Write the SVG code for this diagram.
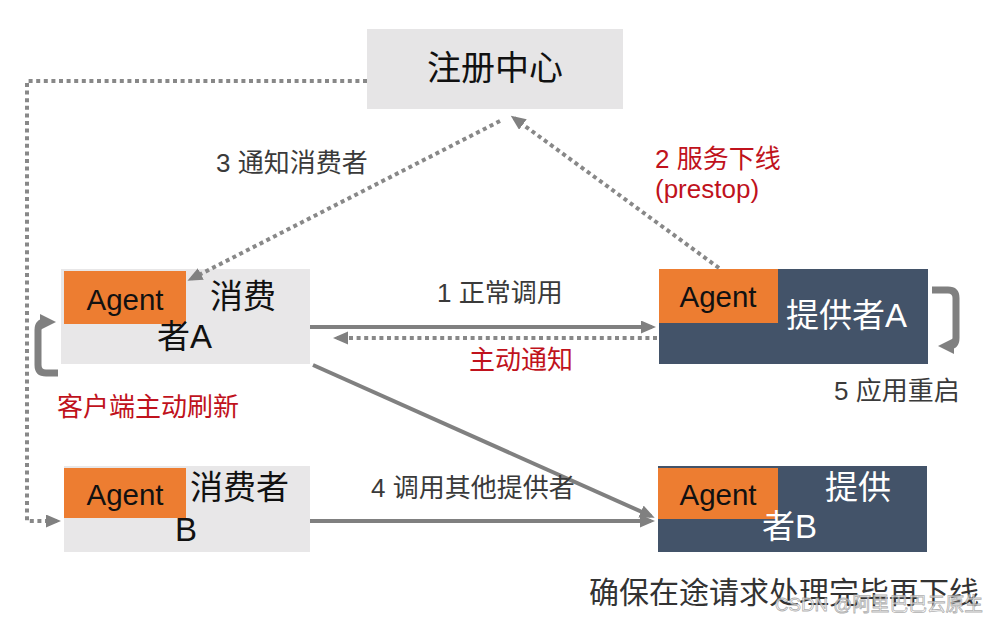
<svg xmlns="http://www.w3.org/2000/svg" width="998" height="622" viewBox="0 0 998 622">
<defs>
<style>
.t{font-family:"Liberation Sans","Noto Sans CJK SC",sans-serif}
.lbl{font-size:26px;fill:#3a3a3a}
.red{font-size:26px;fill:#c0121c}
.node{font-size:33px;fill:#111}
.wnode{font-size:33px;fill:#fff}
.agent{font-size:29.5px;fill:#111}
.ln{stroke:#808080;stroke-width:4;fill:none}
.dot{stroke:#888;stroke-width:4;fill:none;stroke-dasharray:4 3.6}
.br{stroke:#808080;stroke-width:7;fill:none}
</style>
<marker id="ah" markerUnits="userSpaceOnUse" markerWidth="16" markerHeight="14" refX="11" refY="6.5" orient="auto">
<path d="M0,0 L15,6.5 L0,13 z" fill="#808080"/>
</marker>
<marker id="ahb" markerUnits="userSpaceOnUse" markerWidth="18" markerHeight="18" refX="8" refY="8" orient="auto">
<path d="M0,0 L16,8 L0,16 z" fill="#808080"/>
</marker>
</defs>
<rect width="998" height="622" fill="#fff"/>

<g id="registry">
<rect x="367" y="29" width="256" height="80" fill="#e6e5e6"/>
<text class="t" x="495" y="80" font-size="34" fill="#111" text-anchor="middle">注册中心</text>
</g>

<g id="consumerA">
<rect x="61" y="269" width="249" height="95" fill="#e8e7e8"/>
<rect x="64" y="271" width="122" height="53" fill="#ed7d31"/>
<text class="t agent" x="125" y="310" text-anchor="middle">Agent</text>
<text class="t node" x="210" y="308">消费</text>
<text class="t node" x="157" y="348">者A</text>
</g>

<g id="consumerB">
<rect x="64" y="466" width="246" height="86" fill="#e8e7e8"/>
<rect x="64" y="468" width="122" height="50" fill="#ed7d31"/>
<text class="t agent" x="125" y="505" text-anchor="middle">Agent</text>
<text class="t node" x="190" y="499">消费者</text>
<text class="t node" x="175" y="541">B</text>
</g>

<g id="providerA">
<rect x="659" y="269" width="269" height="95" fill="#435369"/>
<rect x="659" y="269" width="119" height="54" fill="#ed7d31"/>
<text class="t agent" x="718" y="307" text-anchor="middle">Agent</text>
<text class="t wnode" x="786" y="327">提供者A</text>
</g>

<g id="providerB">
<rect x="658" y="466" width="269" height="86" fill="#435369"/>
<rect x="658" y="468" width="120" height="51" fill="#ed7d31"/>
<text class="t agent" x="718" y="505" text-anchor="middle">Agent</text>
<text class="t wnode" x="825" y="499">提供</text>
<text class="t wnode" x="762" y="538">者B</text>
</g>

<g id="connectors">
<polyline class="dot" points="367,81 27,81 27,521 57,521" marker-end="url(#ah)"/>
<line class="dot" x1="719" y1="268" x2="514" y2="118" marker-end="url(#ah)"/>
<line class="dot" x1="500" y1="121" x2="191" y2="279" marker-end="url(#ah)"/>
<line class="ln" x1="310" y1="327" x2="652" y2="327" marker-end="url(#ah)"/>
<line class="dot" x1="657" y1="338" x2="337" y2="338" marker-end="url(#ah)"/>
<line class="ln" x1="313" y1="365" x2="651" y2="516" marker-end="url(#ah)"/>
<line class="ln" x1="310" y1="521" x2="651" y2="521" marker-end="url(#ah)"/>
<path class="br" d="M58,373 H46 Q38,373 38,365 V330 Q38,322 46,322 H48" marker-end="url(#ahb)"/>
<path class="br" d="M932,290 H948 Q956,290 956,298 V338 Q956,346 948,346 H946" marker-end="url(#ahb)"/>
</g>

<g id="labels">
<text class="t lbl" x="216" y="172">3 通知消费者</text>
<text class="t red" x="655" y="168">2 服务下线</text>
<text class="t red" x="655" y="198">(prestop)</text>
<text class="t lbl" x="437" y="302">1 正常调用</text>
<text class="t red" x="469" y="369">主动通知</text>
<text class="t red" x="57" y="416">客户端主动刷新</text>
<text class="t lbl" x="834" y="400">5 应用重启</text>
<text class="t lbl" x="371" y="497">4 调用其他提供者</text>
<text class="t" x="589" y="603" font-size="30" fill="#333">确保在途请求处理完毕再下线</text>
<text class="t" x="775" y="611" font-size="19" fill="#fff" fill-opacity="0.7" stroke="#999" stroke-width="0.8" stroke-opacity="0.8" textLength="208" lengthAdjust="spacingAndGlyphs">CSDN @阿里巴巴云原生</text>
</g>
</svg>
